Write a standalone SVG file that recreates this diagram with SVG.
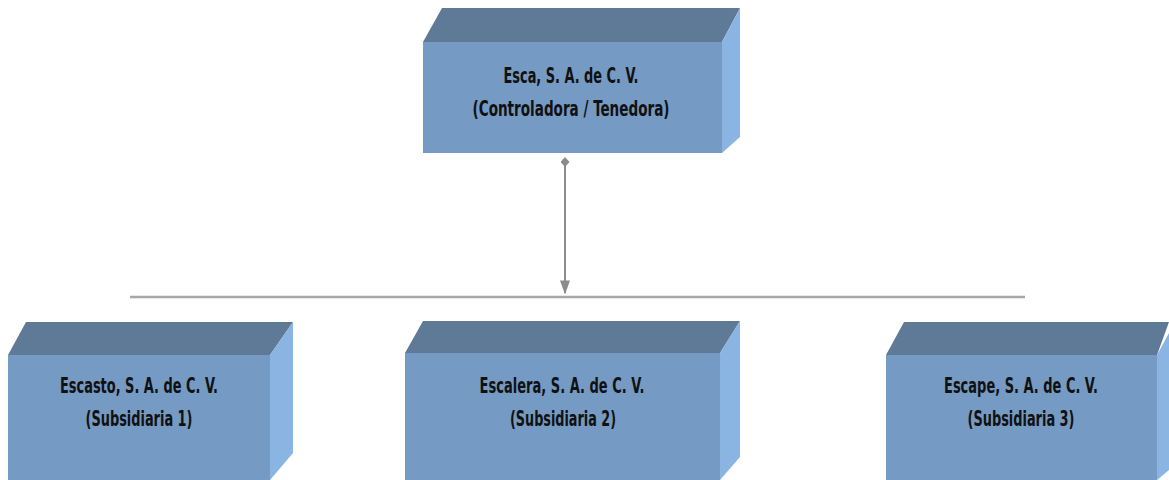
<svg xmlns="http://www.w3.org/2000/svg" width="1169" height="480" viewBox="0 0 1169 480">
<defs>
<style>
.top{fill:#5e7a97}
.front{fill:#759ac3}
.side{fill:#8ab4e2}
.t{font-family:"Liberation Sans Narrow","DejaVu Sans Condensed","Liberation Sans",sans-serif;font-weight:bold;font-size:21px;fill:#111;text-anchor:middle}
.conn{stroke:#8c8c8c;stroke-width:2;fill:none}
.bar{stroke:#a6a6a6;stroke-width:2.5;fill:none}
</style>
<marker id="arr" viewBox="0 0 10 10" refX="9" refY="5" markerWidth="7" markerHeight="5" orient="auto" preserveAspectRatio="none" markerUnits="strokeWidth"><path d="M0,0 L10,5 L0,10 z" fill="#8c8c8c"/></marker>
<marker id="dot" viewBox="0 0 10 10" refX="5" refY="5" markerWidth="5" markerHeight="4.5" orient="auto" preserveAspectRatio="none" markerUnits="strokeWidth"><path d="M5,0 L10,5 L5,10 L0,5 z" fill="#8c8c8c"/></marker>
</defs>
<rect width="1169" height="480" fill="#fff"/>
<g id="connectors">
<line class="bar" x1="130" y1="297" x2="1025" y2="297"/>
<line class="conn" x1="565" y1="162" x2="565" y2="293" marker-start="url(#dot)" marker-end="url(#arr)"/>
</g>
<g id="esca">
<polygon class="top" points="423,42 442,8 740,8 722,42"/>
<polygon class="side" points="722,42 740,8 740,137 722,153"/>
<rect class="front" x="423" y="42" width="299" height="111"/>
<text class="t" x="571" y="83" textLength="135" lengthAdjust="spacingAndGlyphs">Esca, S. A. de C. V.</text>
<text class="t" x="571" y="116" textLength="197" lengthAdjust="spacingAndGlyphs">(Controladora / Tenedora)</text>
</g>
<g id="escasto">
<polygon class="top" points="8,355 26,322 293,322 270,355"/>
<polygon class="side" points="270,355 293,322 293,453 270,480"/>
<rect class="front" x="8" y="355" width="262" height="125"/>
<text class="t" x="139" y="393" textLength="158" lengthAdjust="spacingAndGlyphs">Escasto, S. A. de C. V.</text>
<text class="t" x="139" y="426" textLength="107" lengthAdjust="spacingAndGlyphs">(Subsidiaria 1)</text>
</g>
<g id="escalera">
<polygon class="top" points="405,353 423,321 740,321 720,353"/>
<polygon class="side" points="720,353 740,321 740,457 720,480"/>
<rect class="front" x="405" y="353" width="315" height="127"/>
<text class="t" x="562" y="393" textLength="165" lengthAdjust="spacingAndGlyphs">Escalera, S. A. de C. V.</text>
<text class="t" x="563" y="426" textLength="106" lengthAdjust="spacingAndGlyphs">(Subsidiaria 2)</text>
</g>
<g id="escape">
<polygon class="top" points="886,355 904,322 1169,322 1157,355"/>
<polygon class="side" points="1157,355 1169,333 1169,470 1157,480"/>
<rect class="front" x="886" y="355" width="271" height="125"/>
<text class="t" x="1021" y="393" textLength="154" lengthAdjust="spacingAndGlyphs">Escape, S. A. de C. V.</text>
<text class="t" x="1021" y="426" textLength="107" lengthAdjust="spacingAndGlyphs">(Subsidiaria 3)</text>
</g>
</svg>
